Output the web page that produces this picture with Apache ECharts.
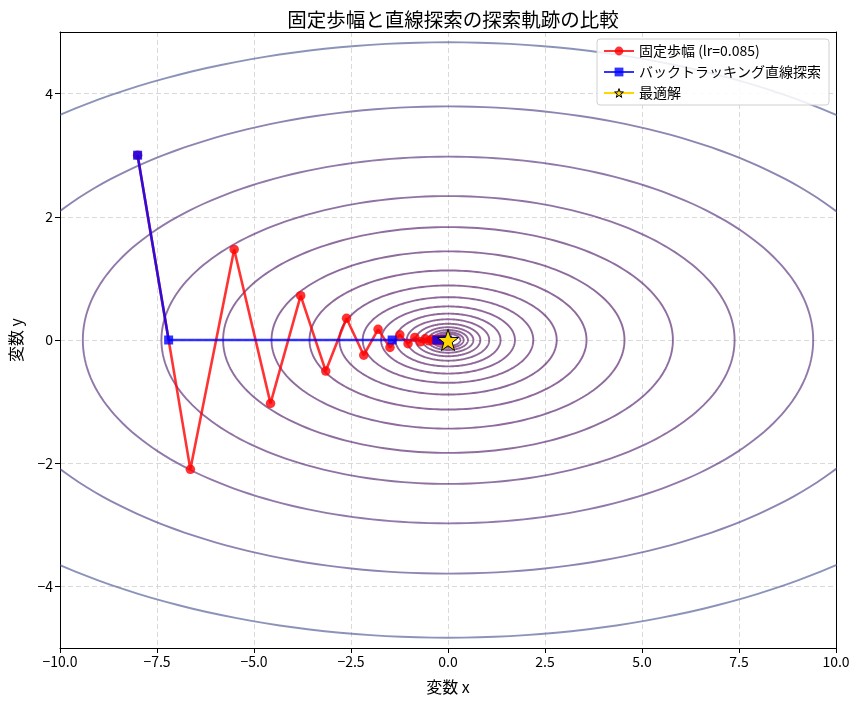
<!DOCTYPE html>
<html>
<head>
<meta charset="utf-8">
<script src="https://cdn.jsdelivr.net/npm/echarts@6/dist/echarts.min.js"></script>
<style>
html, body { margin: 0; padding: 0; background: #fff; }
#main { width: 860px; height: 702px; }
</style>
</head>
<body>
<div id="main"></div>
<script>
// 等高線レベル f(x,y) = x^2 + 10y^2
var levels = [0.1, 0.1624, 0.2637, 0.4281, 0.6952, 1.1288, 1.8330, 2.9764, 4.8329, 7.8476,
              12.743, 20.691, 33.598, 54.556, 88.587, 143.84, 233.57, 379.27, 615.85, 1000];
var yWeight = 10;

// 固定歩幅 (lr=0.085)
var fixedX = [-8, -6.64, -5.511, -4.574, -3.797, -3.151, -2.616, -2.171, -1.802, -1.496,
              -1.241, -1.030, -0.855, -0.710, -0.589, -0.489, -0.406, -0.337, -0.280, -0.232,
              -0.193, -0.160, -0.133, -0.110, -0.091];
var fixedY = [3, -2.1, 1.47, -1.029, 0.720, -0.504, 0.353, -0.247, 0.173, -0.121,
              0.085, -0.059, 0.042, -0.029, 0.020, -0.014, 0.010, -0.007, 0.005, -0.003,
              0.002, -0.002, 0.001, -0.001, 0.000];

// バックトラッキング直線探索
var btX = [-8, -7.2, -1.44, -0.288, -0.0576, -0.0115];
var btY = [3, 0, 0, 0, 0, 0];

// 最適解
var optX = [0];
var optY = [0];

var yTicks = [-4, -2, 0, 2, 4];

var FONT = '"Noto Sans CJK JP", "Noto Sans", sans-serif';

var viridis = ['#440154', '#482475', '#414487', '#355f8d', '#2a788e', '#21918c',
               '#22a884', '#44bf70', '#7ad151', '#bddf26', '#fde725'];
function hex2rgb(h) {
    return [parseInt(h.substr(1, 2), 16), parseInt(h.substr(3, 2), 16), parseInt(h.substr(5, 2), 16)];
}
function contourColor(L) {
    var t = (L - levels[0]) / (levels[levels.length - 1] - levels[0]);
    var p = t * 10, i = Math.min(9, Math.floor(p)), f = p - i;
    var a = hex2rgb(viridis[i]), b = hex2rgb(viridis[i + 1]);
    var c = a.map(function (v, k) { return Math.round(v + (b[k] - v) * f); });
    return 'rgba(' + c.join(',') + ',0.6)';
}

function pairs(xs, ys) {
    return xs.map(function (x, i) { return [x, ys[i]]; });
}

function minus(s) { return String(s).replace('-', '\u2212'); }

var starPath = 'path://M0,-10L2.35,-3.24L9.51,-3.09L3.8,1.24L5.88,8.09L0,4L-5.88,8.09L-3.8,1.24L-9.51,-3.09L-2.35,-3.24Z';

// 枠線だけの補助軸
var frameAxis = {
    type: 'value', min: -10, max: 10,
    axisLine: { show: true, onZero: false, lineStyle: { color: '#000', width: 1 } },
    axisTick: { show: false }, axisLabel: { show: false }, splitLine: { show: false }
};

var chart = echarts.init(document.getElementById('main'));

chart.setOption({
    animation: false,
    backgroundColor: '#fff',
    title: {
        text: '固定歩幅と直線探索の探索軌跡の比較',
        left: 448,
        textAlign: 'center',
        top: 5,
        textStyle: { fontFamily: FONT, fontSize: 19.5, fontWeight: 'normal', color: '#000' }
    },
    grid: { left: 60, right: 24, top: 32, bottom: 54 },
    legend: {
        orient: 'vertical',
        right: 31,
        top: 39,
        padding: [5, 8, 5, 6],
        itemWidth: 30,
        itemHeight: 11,
        itemGap: 7,
        backgroundColor: 'rgba(255,255,255,0.85)',
        borderColor: '#d0d0d0',
        borderWidth: 1,
        borderRadius: 3,
        textStyle: { fontFamily: FONT, fontSize: 14, color: '#000' },
        data: [
            '固定歩幅 (lr=0.085)',
            'バックトラッキング直線探索',
            { name: '最適解', itemStyle: { color: '#ffd700', borderColor: '#000', borderWidth: 1 } }
        ]
    },
    xAxis: [{
        type: 'value',
        min: -10, max: 10, interval: 2.5,
        name: '変数 x',
        nameLocation: 'middle',
        nameGap: 31,
        nameTextStyle: { fontFamily: FONT, fontSize: 16, color: '#000' },
        axisLine: { show: true, onZero: false, lineStyle: { color: '#000', width: 1 } },
        axisTick: { show: true, length: 5, lineStyle: { color: '#000' } },
        axisLabel: {
            fontFamily: FONT, fontSize: 14, color: '#000', margin: 7,
            formatter: function (v) { return minus(v.toFixed(1)); }
        },
        splitLine: { show: true, lineStyle: { color: '#d0d0d0', type: [5, 3], width: 0.8 } }
    }, echarts.util.merge({ position: 'top' }, frameAxis)],
    yAxis: [{
        type: 'value',
        min: -5, max: 5,
        name: '変数 y',
        nameLocation: 'middle',
        nameGap: 36,
        nameTextStyle: { fontFamily: FONT, fontSize: 16, color: '#000' },
        axisLine: { show: true, onZero: false, lineStyle: { color: '#000', width: 1 } },
        axisTick: { show: true, length: 5, customValues: yTicks, lineStyle: { color: '#000' } },
        axisLabel: {
            fontFamily: FONT, fontSize: 14, color: '#000', margin: 7,
            customValues: yTicks,
            formatter: function (v) { return minus(v); }
        },
        splitLine: { show: true, lineStyle: { color: '#d0d0d0', type: [5, 3], width: 0.8 } }
    }, echarts.util.merge({ position: 'right', min: -5, max: 5 }, frameAxis)],
    series: [
        {
            name: 'contour',
            type: 'custom',
            coordinateSystem: 'cartesian2d',
            clip: true,
            silent: true,
            encode: { x: 0, y: 1 },
            data: levels.map(function (L) { return [0, 0, L]; }),
            renderItem: function (params, api) {
                var L = api.value(2);
                var rx = Math.sqrt(L), ry = Math.sqrt(L / yWeight);
                var pts = [];
                for (var i = 0; i <= 240; i++) {
                    var t = i / 240 * 2 * Math.PI;
                    pts.push(api.coord([rx * Math.cos(t), ry * Math.sin(t)]));
                }
                return {
                    type: 'polyline',
                    shape: { points: pts },
                    style: { stroke: contourColor(L), lineWidth: 1.9, fill: null }
                };
            }
        },
        {
            name: '固定歩幅 (lr=0.085)',
            type: 'line',
            data: pairs(fixedX, fixedY),
            symbol: 'circle',
            symbolSize: 9.5,
            lineStyle: { color: '#ff0000', width: 2.6, opacity: 0.8 },
            itemStyle: { color: '#ff0000', opacity: 0.8 }
        },
        {
            name: 'バックトラッキング直線探索',
            type: 'line',
            data: pairs(btX, btY),
            symbol: 'rect',
            symbolSize: 9,
            lineStyle: { color: '#0000ff', width: 2.6, opacity: 0.8 },
            itemStyle: { color: '#0000ff', opacity: 0.8 }
        },
        {
            name: '最適解',
            type: 'line',
            data: pairs(optX, optY),
            symbol: starPath,
            symbolSize: 21,
            showAllSymbol: true,
            lineStyle: { color: '#ffd700', width: 2 },
            itemStyle: { color: '#ffd700', borderColor: '#000', borderWidth: 1 },
            z: 5
        }
    ]
});
</script>
</body>
</html>
